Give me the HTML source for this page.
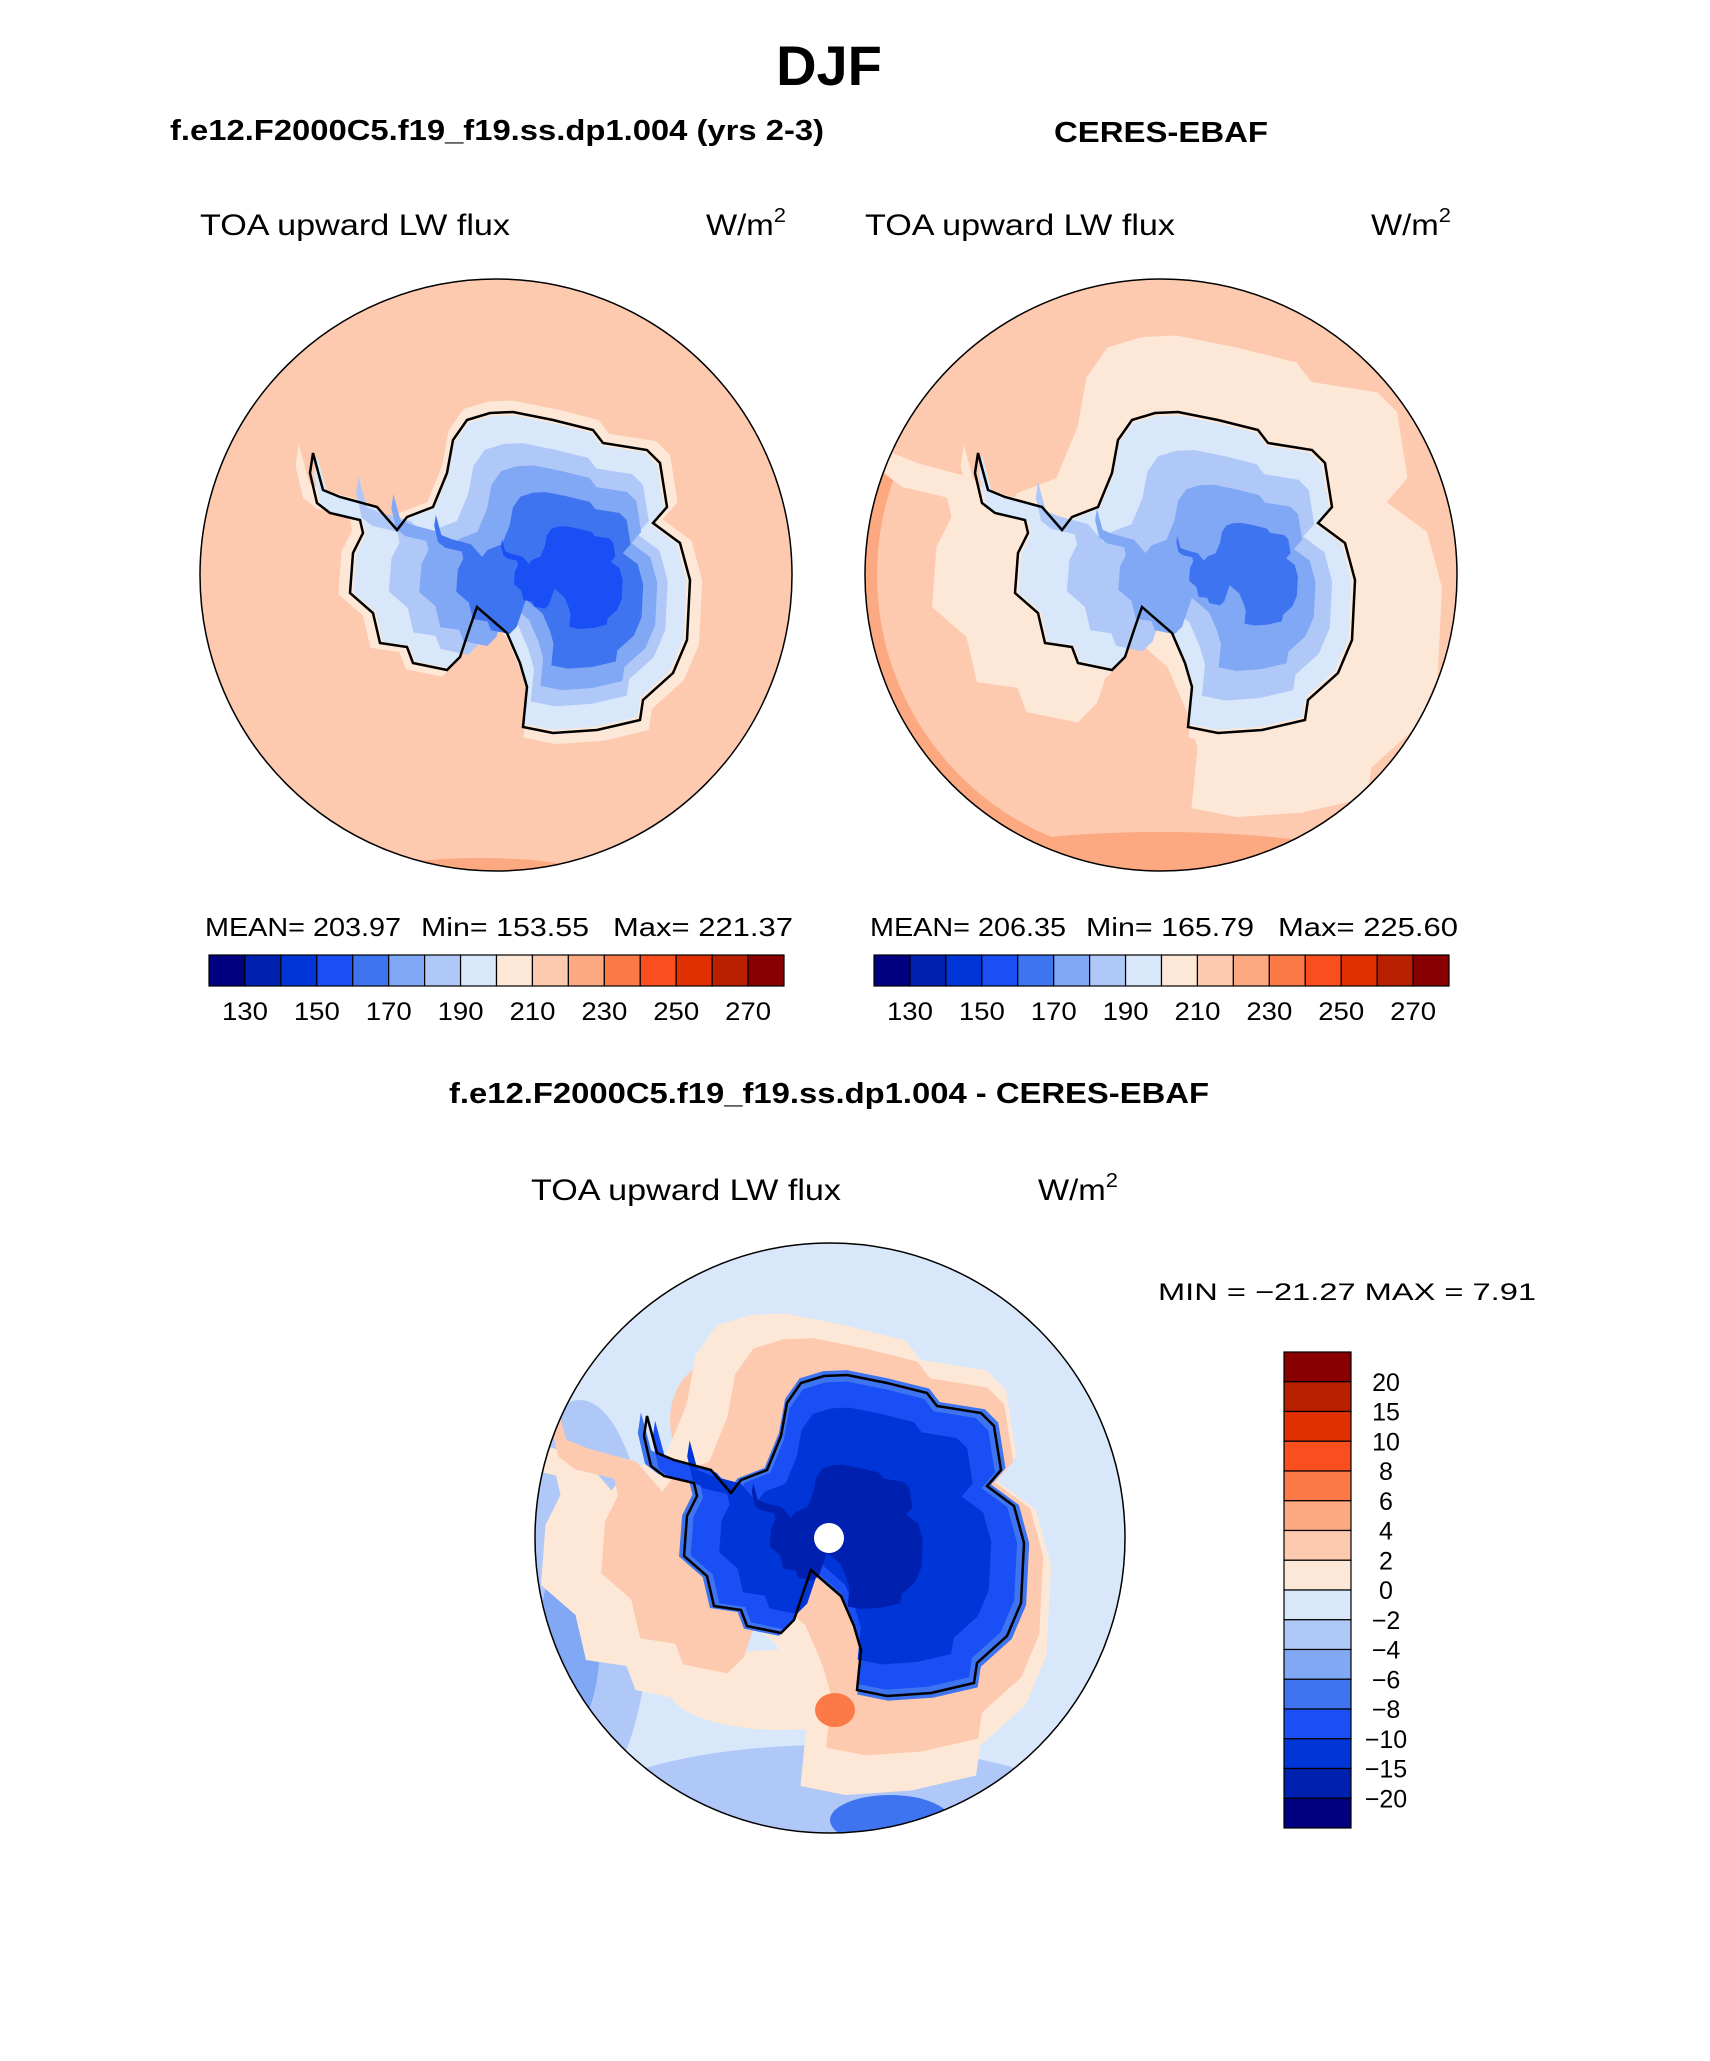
<!DOCTYPE html>
<html><head><meta charset="utf-8"><style>
html,body{margin:0;padding:0;background:#fff;}
svg{display:block;font-family:"Liberation Sans",sans-serif;}
</style></head><body>
<svg id="fig" width="1710" height="2061" viewBox="0 0 1710 2061" xmlns="http://www.w3.org/2000/svg">
<text x="829" y="85" font-size="56" font-weight="bold" text-anchor="middle">DJF</text>
<text x="497" y="140" font-size="29" font-weight="bold" text-anchor="middle" textLength="654" lengthAdjust="spacingAndGlyphs">f.e12.F2000C5.f19_f19.ss.dp1.004 (yrs 2-3)</text>
<text x="1161" y="142" font-size="29" font-weight="bold" text-anchor="middle" textLength="214" lengthAdjust="spacingAndGlyphs">CERES-EBAF</text>
<text x="829" y="1103" font-size="29" font-weight="bold" text-anchor="middle" textLength="760" lengthAdjust="spacingAndGlyphs">f.e12.F2000C5.f19_f19.ss.dp1.004 - CERES-EBAF</text>
<g id="maps"></g>
<g id="bars"></g>
</svg>
<script>
const NS="http://www.w3.org/2000/svg";
const fig=document.getElementById('fig');
const colors=["#000080","#0020b0","#0035d8","#1a4ff5","#3f74f0","#80a8f5","#b0c8f8","#d8e8fa","#fde8d8","#fdcab0","#fca880","#fc7a48","#fa4e1e","#e03000","#b82000","#880000"];
const absTicks=["130","150","170","190","210","230","250","270"];
const diffTicks=["20","15","10","8","6","4","2","0","\u22122","\u22124","\u22126","\u22128","\u221210","\u221215","\u221220"];
const coast=[[-183,-122],[-173,-85],[-156,-78],[-119,-68],[-99,-45],[-89,-58],[-63,-68],[-49,-102],[-43,-135],[-29,-155],[-6,-162],[17,-163],[57,-155],[97,-145],[107,-132],[151,-125],[164,-112],[171,-68],[157,-52],[184,-32],[194,5],[191,65],[177,98],[147,125],[144,145],[101,155],[57,158],[27,152],[31,112],[24,88],[11,58],[-19,32],[-26,52],[-36,82],[-49,95],[-83,88],[-89,72],[-116,68],[-123,38],[-146,18],[-143,-22],[-133,-42],[-136,-55],[-166,-62],[-179,-72],[-186,-102]];
function el(tag,attrs,parent){const e=document.createElementNS(NS,tag);for(const k in attrs)e.setAttribute(k,attrs[k]);(parent||fig).appendChild(e);return e;}
function poly(cx,cy,s,c){return coast.map(p=>[cx+c[0]+s*(p[0]-c[0]),cy+c[1]+s*(p[1]-c[1])].join(',')).join(' ');}
const mapsG=document.getElementById('maps');
const map1Levels=[[1.07,20,0,8],[0.98,20,0,7],[0.82,70,10,6],[0.7,85,15,5],[0.55,90,15,4],[0.32,95,5,3]];
const map2Levels=[[1.5,20,-10,8],[1.07,20,0,8],[0.98,20,0,7],[0.78,90,10,6],[0.58,100,10,5],[0.32,110,0,4]];
const map3Levels=[[1.5,140,-40,8],[1.3,130,-40,9],[1.03,20,0,4],[0.96,20,0,3],[0.8,30,0,2],[0.45,10,0,1]];
function drawMap(id,cx,cy,r,base,levels,extra){
  const g=el('g',{},mapsG);
  
  
  const cp=el('clipPath',{id:id+'-clip'},g);el('circle',{cx:cx,cy:cy,r:r},cp);
  const inner=el('g',{'clip-path':'url(#'+id+'-clip)'},g);
  el('circle',{cx:cx,cy:cy,r:r,fill:base},inner);
  if(extra)extra(inner);
  levels.forEach(l=>{const p=el('polygon',{points:poly(cx,cy,l[0],[l[1],l[2]]),fill:colors[l[3]],stroke:'none'},inner);
    
    });
  const cl=el('polygon',{points:poly(cx,cy,1,[0,0]),fill:'none',stroke:'#000','stroke-width':2.5},g);
  
  
  const o=el('circle',{cx:cx,cy:cy,r:r,fill:'none',stroke:'#000','stroke-width':1.5},g);
  
  
  return g;
}
drawMap('model-map',496,575,296,colors[9],map1Levels,g=>{el('ellipse',{cx:480,cy:880,rx:120,ry:22,fill:colors[10]},g);});
drawMap('obs-map',1161,575,296,colors[9],map2Levels,g=>{el('circle',{cx:1161,cy:575,r:296,fill:'none',stroke:colors[10],'stroke-width':24,'stroke-dasharray':'0 400 650 810'},g);el('ellipse',{cx:1161,cy:862,rx:200,ry:30,fill:colors[10]},g);});
drawMap('diff-map',830,1538,295,colors[7],map3Levels,g=>{
  el('ellipse',{cx:580,cy:1600,rx:70,ry:200,fill:colors[6]},g);
  el('ellipse',{cx:570,cy:1640,rx:30,ry:90,fill:colors[5]},g);
  el('ellipse',{cx:830,cy:1830,rx:270,ry:85,fill:colors[6]},g);
  el('ellipse',{cx:890,cy:1820,rx:60,ry:25,fill:colors[4]},g);
  el('ellipse',{cx:660,cy:1590,rx:50,ry:40,fill:colors[8]},g);
  el('ellipse',{cx:720,cy:1420,rx:50,ry:60,fill:colors[9]},g);
  el('ellipse',{cx:780,cy:1690,rx:110,ry:40,fill:colors[8]},g);
});
el('ellipse',{cx:835,cy:1710,rx:20,ry:17,fill:colors[11]},mapsG);
el('circle',{cx:829,cy:1538,r:15,fill:'#fff'},mapsG);
function txt(x,y,s,size,anchor,name,len){const t=el('text',{x:x,y:y,'font-size':size,'text-anchor':anchor||'start'});t.textContent=s;if(len){t.setAttribute('textLength',len);t.setAttribute('lengthAdjust','spacingAndGlyphs');}
  
  return t;}
function units(x,y){const u=txt(x,y,'W/m',30,'start','units-label');u.setAttribute('textLength',80);u.setAttribute('lengthAdjust','spacingAndGlyphs');const s=el('tspan',{dy:-13,'font-size':20},u);s.textContent='2';}
[[200,496],[865,1161]].forEach((p,i)=>{
  txt(p[0],235,'TOA upward LW flux',30,'start','field-label',310);
  units(p[0]+506,235);
});
txt(531,1200,'TOA upward LW flux',30,'start','field-label',310);
units(1038,1200);
const stats=[["MEAN= 203.97","Min= 153.55","Max= 221.37"],["MEAN= 206.35","Min= 165.79","Max= 225.60"]];
const barsG=document.getElementById('bars');
[209,874].forEach((x0,k)=>{
  txt(x0-4,936,stats[k][0],26,'start','mean-stat',196);
  txt(x0+212,936,stats[k][1],26,'start','min-stat',168);
  txt(x0+404,936,stats[k][2],26,'start','max-stat',180);
  const w=575/colors.length;
  colors.forEach((c,i)=>{const r=el('rect',{x:x0+i*w,y:955,width:w,height:31,fill:c,stroke:'#000','stroke-width':1.2},barsG);
    
    });
  absTicks.forEach((t,i)=>txt(x0+(2*i+1)*w,1020,t,25,'middle','colorbar-tick',46));
});
txt(1158,1300,'MIN = \u221221.27 MAX =    7.91',24,'start','min-max-stat',378);
{const x0=1284,y0=1352,h=476/colors.length;
  colors.slice().reverse().forEach((c,i)=>{const r=el('rect',{x:x0,y:y0+i*h,width:67,height:h,fill:c,stroke:'#000','stroke-width':1.2},barsG);
    
    });
  diffTicks.forEach((t,i)=>txt(x0+102,y0+(i+1)*h+9,t,25,'middle','diff-colorbar-tick'));
}
</script>
</body></html>
